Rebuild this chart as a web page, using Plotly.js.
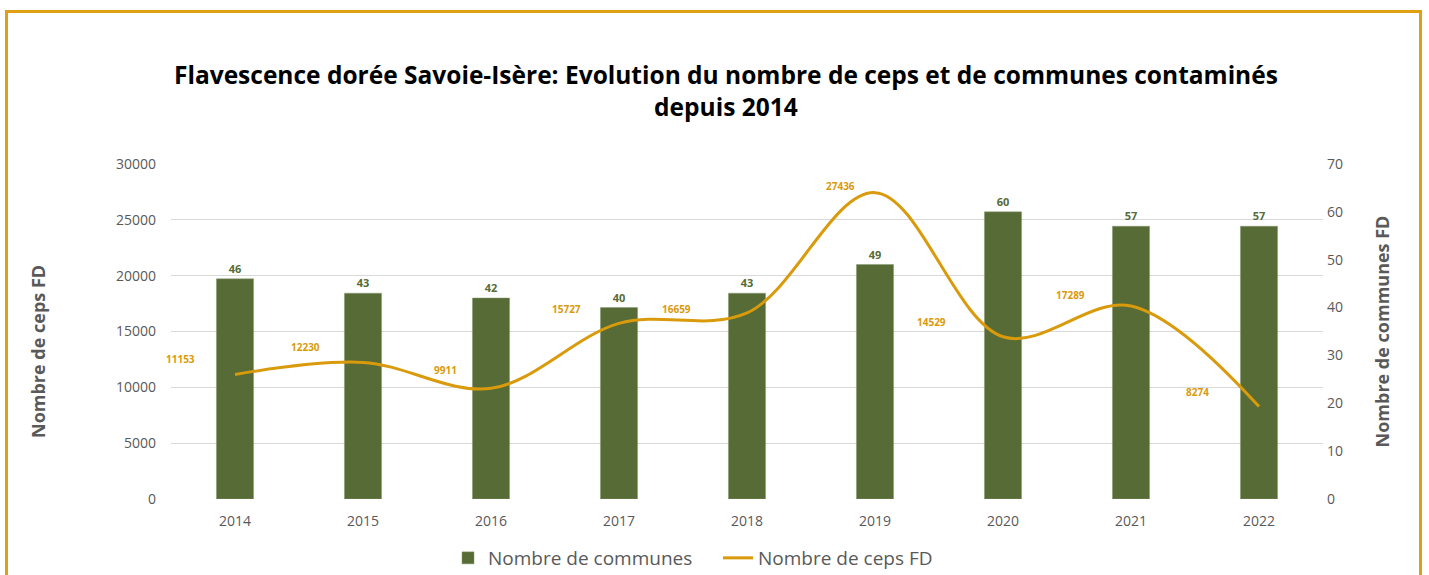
<!DOCTYPE html>
<html>
<head>
<meta charset="utf-8">
<script src="https://cdn.plot.ly/plotly-3.0.1.min.js"></script>
<style>
  html, body { margin:0; padding:0; overflow:hidden; background:#fff; }
  #chart { position:absolute; left:0; top:0; width:1429px; height:575px; }
  #frame { position:absolute; left:5px; top:10px; width:1411px; height:600px;
           border:3px solid #e0a014; pointer-events:none; }
</style>
</head>
<body>
<div id="chart"></div>
<div id="frame"></div>
<script>
const years = ['2014','2015','2016','2017','2018','2019','2020','2021','2022'];
const communes = [46, 43, 42, 40, 43, 49, 60, 57, 57];
const ceps = [11153, 12230, 9911, 15727, 16659, 27436, 14529, 17289, 8274];
// label offsets for the line data labels (pixels)
const labelDx = [-55, -58, -46, -53, -71, -35, -72, -61, -62];
const labelDy = [15, 15, 18, 14, 4, 7, 15, 11, 15];

const green = '#566b35';
const gold = '#d99a0b';
const grey = '#595959';

const traces = [
  {
    type:'bar', name:'Nombre de communes', x: years, y: communes, yaxis:'y',
    marker:{color:green, line:{color:'#8a9a70', width:0.5}},
    width:0.29,
    text: communes.map(String), textposition:'outside', cliponaxis:false,
    textfont:{family:'Open Sans, sans-serif', size:11, color:green, weight:'bold'},
    hoverinfo:'x+y'
  },
  {
    type:'scatter', mode:'lines', name:'Nombre de ceps FD', x: years, y: ceps, yaxis:'y2',
    line:{color:gold, width:3, shape:'spline', smoothing:1.0},
    hoverinfo:'x+y'
  }
];

const annotations = ceps.map((v,i)=>({
  x: i, y: v, xref:'x', yref:'y2', text: '<b>' + v + '</b>', showarrow:false,
  xanchor:'center', yanchor:'middle',
  xshift: labelDx[i], yshift: labelDy[i],
  font:{family:'Open Sans, sans-serif', size:10, color:gold}
}));
annotations.push({
  xref:'paper', yref:'paper', x:-171/1152+38/1152, y:(499-352)/335,
  xanchor:'center', yanchor:'middle', textangle:-90, showarrow:false,
  text:'<b>Nombre de ceps FD</b>',
  font:{family:'Open Sans, sans-serif', size:18, color:grey}
});

const layout = {
  width:1429, height:575,
  paper_bgcolor:'#ffffff', plot_bgcolor:'rgba(0,0,0,0)',
  margin:{l:171, r:106, t:164, b:76, autoexpand:false},
  font:{family:'Open Sans, sans-serif', color:grey},
  title:{
    text:'Flavescence dorée Savoie-Isère: Evolution du nombre de ceps et de communes contaminés<br>depuis 2014',
    font:{family:'Open Sans, sans-serif', size:24.5, color:'#000', weight:'bold'},
    x:0.508, xanchor:'center', y:1-84/575, yanchor:'middle', yref:'container'
  },
  showlegend:true,
  legend:{orientation:'h', x:(718-171)/1152, xanchor:'center', y:1-558/575, yanchor:'middle', yref:'container',
          entrywidth:225, entrywidthmode:'pixels', itemwidth:30,
          font:{family:'Open Sans, sans-serif', size:19, color:grey},
          traceorder:'normal'},
  xaxis:{
    type:'category', range:[-0.5, 8.5], showgrid:false, zeroline:false,
    showline:false, ticks:'', ticklabelstandoff:12,
    tickfont:{family:'Open Sans, sans-serif', size:14, color:grey}
  },
  yaxis:{
    side:'right', range:[0,70], dtick:10, showgrid:false, zeroline:false,
    tickfont:{family:'Open Sans, sans-serif', size:14, color:grey},
    ticklabelstandoff:3,
    title:{text:'Nombre de communes FD', standoff:34,
           font:{family:'Open Sans, sans-serif', size:18, color:grey, weight:'bold'}}
  },
  yaxis2:{
    side:'left', overlaying:'y', range:[0,30000], dtick:5000, showgrid:true, tickformat:'d',
    gridcolor:'#d9d9d9', gridwidth:1, zeroline:false,
    tickfont:{family:'Open Sans, sans-serif', size:14, color:grey},
    ticklabelstandoff:14
  },
  annotations: annotations
};

Plotly.newPlot('chart', traces, layout, {displayModeBar:false, staticPlot:true});
</script>
</body>
</html>
